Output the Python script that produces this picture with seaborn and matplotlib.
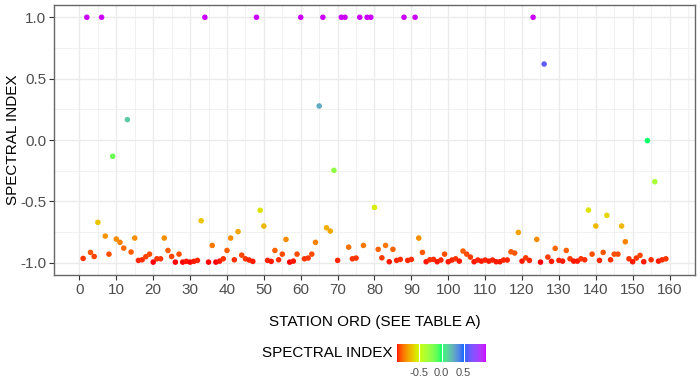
import numpy as np
import pandas as pd
import seaborn as sns
import matplotlib.pyplot as plt
from matplotlib.colors import ListedColormap, Normalize, to_rgb
from matplotlib.cm import ScalarMappable

# station order 1..159 and spectral index
station = list(range(1, 160))
spectral = [
    -0.965, 1.0, -0.916, -0.949, -0.671, 1.0, -0.783, -0.930, -0.133, -0.807,
    -0.834, -0.881, 0.166, -0.913, -0.799, -0.981, -0.976, -0.951, -0.930, -0.995,
    -0.968, -0.968, -0.799, -0.900, -0.949, -0.995, -0.930, -0.995, -0.989, -0.995,
    -0.989, -0.981, -0.658, 1.0, -0.995, -0.859, -0.995, -0.987, -0.968, -0.900,
    -0.799, -0.976, -0.747, -0.938, -0.968, -0.978, -0.989, 1.0, -0.573, -0.701,
    -0.981, -0.989, -0.900, -0.976, -0.930, -0.810, -0.995, -0.987, -0.930, 1.0,
    -0.968, -0.962, -0.930, -0.834, 0.277, 1.0, -0.715, -0.742, -0.247, -0.981,
    1.0, 1.0, -0.873, -0.968, -0.962, 1.0, -0.859, 1.0, 1.0, -0.549,
    -0.891, -0.960, -0.859, -0.992, -0.891, -0.981, -0.973, 1.0, -0.981, -0.973,
    1.0, -0.799, -0.916, -0.992, -0.976, -0.973, -0.992, -0.978, -0.930, -0.992,
    -0.978, -0.968, -0.987, -0.905, -0.930, -0.954, -0.992, -0.978, -0.987, -0.978,
    -0.987, -0.978, -0.992, -0.992, -0.978, -0.978, -0.911, -0.921, -0.753, -0.987,
    -0.960, -0.981, 1.0, -0.810, -0.995, 0.619, -0.954, -0.989, -0.883, -0.981,
    -0.987, -0.900, -0.968, -0.987, -0.987, -0.968, -0.976, -0.571, -0.930, -0.701,
    -0.981, -0.916, -0.614, -0.976, -0.930, -0.930, -0.701, -0.829, -0.968, -0.992,
    -0.962, -0.940, -0.992, -0.005, -0.976, -0.340, -0.987, -0.976, -0.968,
]
cbar_ticks = [-0.5, 0.0, 0.5]
rainbow5 = ["#FF0000", "#CCFF00", "#00FF66", "#0066FF", "#CC00FF"]

df = pd.DataFrame({"station": station, "spectral": spectral})


# gradient interpolated in Lab space, like ggplot's scale_colour_gradientn
def to_lab(rgb):
    c = np.asarray(rgb, float)
    c = np.where(c > 0.04045, ((c + 0.055) / 1.055) ** 2.4, c / 12.92)
    M = np.array([[0.4124, 0.3576, 0.1805],
                  [0.2126, 0.7152, 0.0722],
                  [0.0193, 0.1192, 0.9505]])
    xyz = M @ c / np.array([0.95047, 1.0, 1.08883])
    f = np.where(xyz > 0.008856, np.cbrt(xyz), 7.787 * xyz + 16 / 116)
    return np.array([116 * f[1] - 16, 500 * (f[0] - f[1]), 200 * (f[1] - f[2])])


def from_lab(lab):
    L, a, b = lab
    fy = (L + 16) / 116
    f = np.array([fy + a / 500, fy, fy - b / 200])
    xyz = np.where(f ** 3 > 0.008856, f ** 3, (f - 16 / 116) / 7.787)
    xyz = xyz * np.array([0.95047, 1.0, 1.08883])
    Minv = np.array([[3.2406, -1.5372, -0.4986],
                     [-0.9689, 1.8758, 0.0415],
                     [0.0557, -0.2040, 1.0570]])
    c = Minv @ xyz
    c = np.where(c > 0.0031308, 1.055 * np.abs(c) ** (1 / 2.4) - 0.055, 12.92 * c)
    return np.clip(c, 0, 1)


labs = [to_lab(to_rgb(c)) for c in rainbow5]
cols = []
for t in np.linspace(0, 1, 256):
    pos = t * (len(labs) - 1)
    i = min(int(pos), len(labs) - 2)
    w = pos - i
    cols.append(from_lab((1 - w) * labs[i] + w * labs[i + 1]))
cmap = ListedColormap(cols)

plt.rcParams['font.family'] = ['Liberation Sans', 'DejaVu Sans']
plt.rcParams['axes.unicode_minus'] = False

fig = plt.figure(figsize=(7, 3.88), dpi=100)
ax = fig.add_axes([54/700, 1 - 275/388, 641/700, 270/388])

sns.scatterplot(data=df, x="station", y="spectral", hue="spectral",
                palette=cmap, hue_norm=(-1, 1), s=16, linewidth=0,
                legend=False, ax=ax, zorder=3)

ax.set_xlim(1 - 158*0.05, 159 + 158*0.05)
ax.set_ylim(-1.1, 1.1)
ax.set_xticks(np.arange(0, 161, 10))
ax.set_xticks(np.arange(5, 166, 10), minor=True)
ax.set_yticks([-1.0, -0.5, 0.0, 0.5, 1.0])
ax.set_yticks([-0.75, -0.25, 0.25, 0.75], minor=True)
ax.set_yticklabels(["-1.0", "-0.5", "0.0", "0.5", "1.0"])
ax.grid(which='major', color='#EBEBEB', lw=1.0, zorder=0)
ax.grid(which='minor', color='#EBEBEB', lw=0.5, zorder=0)
ax.set_axisbelow(True)
ax.tick_params(which='major', length=3.5, width=0.8, color='#333333',
               labelsize=11, labelcolor='#4D4D4D', pad=2)
ax.tick_params(which='minor', length=0)
for sp in ax.spines.values():
    sp.set_color('#666666')
    sp.set_linewidth(1.0)

ax.set_xlabel('STATION ORD (SEE TABLE A)', fontsize=11, labelpad=13)
ax.set_ylabel('SPECTRAL INDEX', fontsize=11)
ax.yaxis.set_label_coords(-0.053, 0.5)

# colourbar legend
cax = fig.add_axes([397/700, 1 - 362/388, 89/700, 18/388])
cb = fig.colorbar(ScalarMappable(norm=Normalize(-1, 1), cmap=cmap), cax=cax,
                  orientation='horizontal', ticks=cbar_ticks)
cb.outline.set_visible(False)
cb.ax.set_xticklabels(["-0.5", "0.0", "0.5"])
cb.ax.tick_params(length=0, labelsize=8, labelcolor='#4D4D4D', pad=4)
for t in cbar_ticks:
    cb.ax.axvline(t, color='white', lw=0.8)
fig.text(262/700, 1 - 353/388, 'SPECTRAL INDEX', fontsize=11,
         ha='left', va='center')

fig.savefig('out.png', dpi=100)
